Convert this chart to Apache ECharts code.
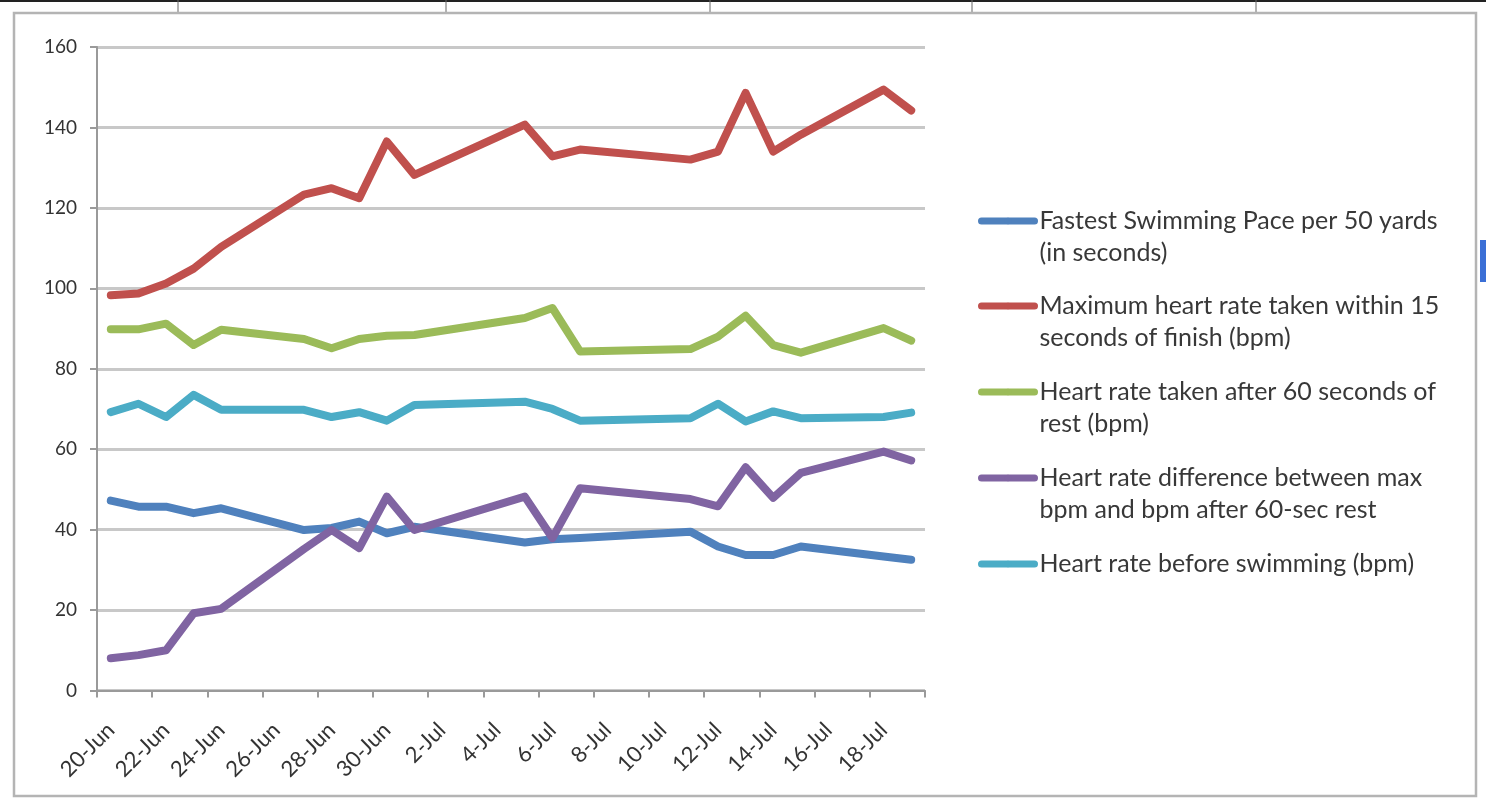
<!DOCTYPE html>
<html>
<head>
<meta charset="utf-8">
<script src="https://cdn.jsdelivr.net/npm/echarts@6/dist/echarts.min.js"></script>
<style>
    html, body { margin: 0; padding: 0; background: #fff; }
    #chart { width: 1486px; height: 801px; }
</style>
</head>
<body>
<div id="chart"></div>
<script>
// one category per day, 20-Jun .. 19-Jul; null = no reading that day
var days = ['20-Jun', '21-Jun', '22-Jun', '23-Jun', '24-Jun', '25-Jun', '26-Jun', '27-Jun', '28-Jun', '29-Jun',
    '30-Jun', '1-Jul', '2-Jul', '3-Jul', '4-Jul', '5-Jul', '6-Jul', '7-Jul', '8-Jul', '9-Jul',
    '10-Jul', '11-Jul', '12-Jul', '13-Jul', '14-Jul', '15-Jul', '16-Jul', '17-Jul', '18-Jul', '19-Jul'];

var pace = [47.2, 45.7, 45.7, 44.1, 45.3, null, null, 39.9, 40.4, 42.0, 39.1, 40.7, null, null, null,
    36.8, 37.6, 37.9, null, null, null, 39.5, 35.8, 33.7, 33.7, 35.8, null, null, 33.3, 32.5];
var maxHr = [98.3, 98.7, 101.2, 104.9, 110.3, null, null, 123.3, 124.9, 122.4, 136.5, 128.2, null, null, null,
    140.7, 132.8, 134.5, null, null, null, 132.0, 134.0, 148.6, 134.0, 138.2, null, null, 149.4, 144.2];
var restHr = [89.8, 89.8, 91.2, 85.9, 89.7, null, null, 87.4, 85.1, 87.4, 88.2, 88.4, null, null, null,
    92.6, 95.1, 84.3, null, null, null, 84.9, 88.0, 93.2, 85.9, 84.0, null, null, 90.1, 87.0];
var hrDiff = [8.0, 8.8, 10.0, 19.2, 20.3, null, null, 35.2, 39.9, 35.4, 48.2, 39.9, null, null, null,
    48.2, 37.9, 50.3, null, null, null, 47.6, 45.8, 55.5, 47.9, 54.1, null, null, 59.4, 57.2];
var preHr = [69.2, 71.3, 68.0, 73.5, 69.8, null, null, 69.8, 68.0, 69.2, 67.1, 71.0, null, null, null,
    71.8, 70.0, 67.1, null, null, null, 67.7, 71.3, 66.9, 69.4, 67.7, null, null, 68.0, 69.1];

var seriesNames = [
    'Fastest Swimming Pace per 50 yards\n(in seconds)',
    'Maximum heart rate taken within 15\nseconds of finish (bpm)',
    'Heart rate taken after 60 seconds of\nrest (bpm)',
    'Heart rate difference between max\nbpm and bpm after 60-sec rest',
    'Heart rate before swimming (bpm)'
];
var seriesData = [pace, maxHr, restHr, hrDiff, preHr];
var colors = ['#4F81BD', '#C0504D', '#9BBB59', '#8064A2', '#4BACC6'];

var FONT = 'Lato';
var LINE_H = 31.5;
// y of the first text line of each legend entry
var legendLines = [221, 306, 392, 478, 564];

let chart = echarts.init(document.getElementById('chart'));

let legends = seriesNames.map(function (name, i) {
    let twoLines = name.indexOf('\n') >= 0;
    return {
        data: [name],
        orient: 'vertical',
        left: 978,
        // two-line entries get a blank first line so the icon lines up with the real first line
        top: legendLines[i] - (twoLines ? 1.5 : 0.5) * LINE_H,
        padding: 0,
        itemWidth: 53,
        itemHeight: 8,
        selectedMode: false,
        formatter: function (n) {
            return n.indexOf('\n') >= 0 ? '\n' + n : n;
        },
        lineStyle: {width: 7, cap: 'round'},
        textStyle: {
            fontFamily: FONT,
            fontSize: 25,
            color: '#383838',
            lineHeight: LINE_H
        }
    };
});

chart.setOption({
    animation: false,
    color: colors,
    grid: {left: 97, right: 561, top: 47, bottom: 110.5},
    legend: legends,
    xAxis: {
        type: 'category',
        data: days,
        boundaryGap: true,
        axisLine: {lineStyle: {color: '#9a9a9a', width: 2}},
        axisTick: {show: true, interval: 1, length: 7, lineStyle: {color: '#9a9a9a', width: 2}},
        axisLabel: {
            interval: 1,
            rotate: 45,
            margin: 36,
            fontFamily: FONT,
            fontSize: 22,
            color: '#333'
        },
        splitLine: {show: false}
    },
    yAxis: {
        type: 'value',
        min: 0,
        max: 160,
        interval: 20,
        axisLine: {show: true, lineStyle: {color: '#9a9a9a', width: 2}},
        axisTick: {show: true, length: 7, lineStyle: {color: '#9a9a9a', width: 2}},
        axisLabel: {margin: 20, fontFamily: FONT, fontSize: 19, color: '#333'},
        splitLine: {lineStyle: {color: '#c8c8c8', width: 3}}
    },
    series: seriesNames.map(function (name, i) {
        return {
            name: name,
            type: 'line',
            data: seriesData[i],
            connectNulls: true,
            symbol: 'none',
            lineStyle: {width: 8, color: colors[i], cap: 'round', join: 'round'}
        };
    }),
    graphic: [
        // spreadsheet edge above the chart object
        {type: 'rect', shape: {x: 0, y: 0, width: 1486, height: 2}, style: {fill: '#222'}},
        {type: 'line', shape: {x1: 178, y1: 0, x2: 178, y2: 12}, style: {stroke: '#666', lineWidth: 1}},
        {type: 'line', shape: {x1: 446, y1: 0, x2: 446, y2: 12}, style: {stroke: '#666', lineWidth: 1}},
        {type: 'line', shape: {x1: 710, y1: 0, x2: 710, y2: 12}, style: {stroke: '#666', lineWidth: 1}},
        {type: 'line', shape: {x1: 972, y1: 0, x2: 972, y2: 12}, style: {stroke: '#666', lineWidth: 1}},
        {type: 'line', shape: {x1: 1256, y1: 0, x2: 1256, y2: 12}, style: {stroke: '#666', lineWidth: 1}},
        // chart area frame
        {type: 'rect', shape: {x: 14, y: 13, width: 1462, height: 783}, style: {fill: 'none', stroke: '#b4b4b4', lineWidth: 2.5}},
        {type: 'rect', shape: {x: 1480, y: 240, width: 6, height: 42}, style: {fill: '#3b6fd6'}}
    ]
});
</script>
</body>
</html>
